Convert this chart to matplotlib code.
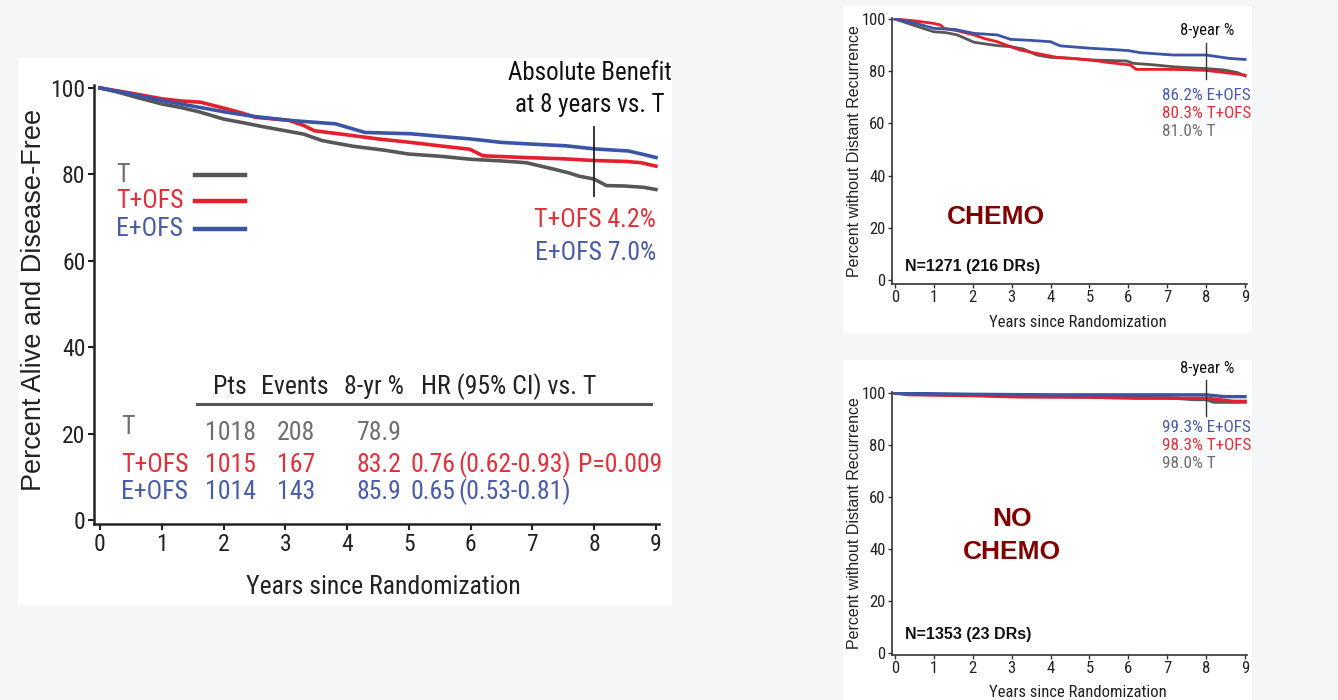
import os
import matplotlib
matplotlib.use("Agg")
import matplotlib.pyplot as plt
from matplotlib import font_manager
from matplotlib.font_manager import FontProperties
from matplotlib.patches import Rectangle

# ---------------- data ----------------
years_ticks = list(range(0, 10))
pct_ticks_main = [0, 20, 40, 60, 80, 100]

t_years = [0, 0.3, 0.6, 1.0, 1.3, 1.6, 2.0, 2.3, 2.65, 3.0, 3.3, 3.6, 4.1, 4.6, 5.0, 5.5,
           6.0, 6.5, 6.9, 7.35, 7.6, 7.75, 8.0, 8.2, 8.5, 8.8, 9.0]
t_dfs = [100, 99, 97.8, 96.3, 95.5, 94.5, 92.8, 92, 91, 90.1, 89.3, 87.8, 86.5, 85.6, 84.7,
         84.2, 83.5, 83.1, 82.7, 81.2, 80.3, 79.6, 78.9, 77.4, 77.3, 77.0, 76.5]
tofs_years = [0, 0.5, 1.0, 1.3, 1.63, 2.04, 2.3, 2.52, 3.06, 3.3, 3.47, 4.08, 4.5, 5.03, 5.5,
              5.99, 6.2, 6.87, 7.5, 8.0, 8.5, 8.76, 9.0]
tofs_dfs = [100, 98.8, 97.5, 97.0, 96.7, 95.2, 94.2, 93.2, 92.5, 91.3, 90.1, 89.0, 88.2, 87.4,
            86.6, 85.8, 84.3, 83.9, 83.6, 83.2, 83.0, 82.7, 81.9]
eofs_years = [0, 0.5, 1.0, 1.5, 2.04, 2.5, 3.06, 3.81, 4.29, 5.03, 5.5, 6.0, 6.5, 7.0, 7.55,
              8.0, 8.56, 8.8, 9.0]
eofs_dfs = [100, 98.6, 97.1, 95.8, 94.4, 93.4, 92.5, 91.7, 89.7, 89.4, 88.8, 88.2, 87.4, 87.0,
            86.6, 85.9, 85.4, 84.6, 83.9]

table_header = ["Pts", "Events", "8-yr %", "HR (95% CI) vs. T"]
table_arms = ["T", "T+OFS", "E+OFS"]
table_pts = ["1018", "1015", "1014"]
table_events = ["208", "167", "143"]
table_8yr = ["78.9", "83.2", "85.9"]
table_hr = ["", "0.76", "0.65"]
table_ci = ["", "(0.62-0.93)", "(0.53-0.81)"]
table_p = ["", "P=0.009", ""]
benefit_labels = ["T+OFS 4.2%", "E+OFS 7.0%"]

c_t_years = [0, 0.5, 1.0, 1.3, 1.6, 2.03, 2.3, 2.63, 2.97, 3.3, 3.65, 4.0, 4.5, 5.02, 5.5,
             5.96, 6.13, 6.6, 7.16, 7.6, 8.0, 8.44, 8.8, 9.0]
c_t_vals = [100, 97.5, 95.1, 94.8, 93.9, 91.1, 90.5, 89.8, 89.4, 88.5, 86.2, 85.3, 85.0, 84.3,
            84.1, 83.9, 83.0, 82.5, 81.7, 81.3, 81.0, 80.5, 79.5, 78.2]
c_tofs_years = [0, 0.5, 1.0, 1.17, 1.26, 1.6, 2.03, 2.3, 2.63, 2.97, 3.22, 3.65, 4.17, 4.6,
                5.02, 5.5, 6.05, 6.2, 7.0, 7.5, 8.0, 8.53, 9.0]
c_tofs_vals = [100, 99.3, 98.3, 97.7, 96.4, 95.5, 93.9, 92.5, 91.3, 89.4, 88.1, 86.8, 85.3,
               84.8, 84.3, 83.3, 82.4, 80.7, 80.7, 80.6, 80.3, 79.4, 78.5]
c_eofs_years = [0, 0.5, 1.0, 1.54, 2.03, 2.63, 2.97, 3.5, 4.0, 4.25, 5.02, 5.6, 6.0, 6.3,
                7.16, 8.0, 8.6, 9.0]
c_eofs_vals = [100, 98.5, 96.4, 96.0, 94.5, 93.9, 92.2, 91.8, 91.3, 89.7, 88.8, 88.3, 87.9,
               87.1, 86.2, 86.2, 84.9, 84.5]
chemo_labels = ["86.2% E+OFS", "80.3% T+OFS", "81.0% T"]

n_t_years = [0, 1, 2, 3, 4, 5, 6, 7, 7.7, 8.0, 8.2, 9.0]
n_t_vals = [100, 99.5, 99.2, 98.8, 98.6, 98.5, 98.3, 98.2, 97.5, 97.5, 96.5, 96.5]
n_tofs_years = [0, 0.3, 1, 2, 3.2, 4, 5, 6.2, 7, 8, 8.7, 9.0]
n_tofs_vals = [100, 99.4, 99.2, 99.0, 98.5, 98.5, 98.4, 98.0, 98.0, 98.0, 96.8, 96.8]
n_eofs_years = [0, 1, 2, 3, 4, 5, 6, 7, 8, 8.47, 9.0]
n_eofs_vals = [100, 99.7, 99.5, 99.4, 99.3, 99.3, 99.3, 99.3, 99.3, 98.6, 98.6]
nochemo_labels = ["99.3% E+OFS", "98.3% T+OFS", "98.0% T"]

# ---------------- style ----------------
GRAY = "#575757"
RED = "#e3202b"
BLUE = "#3a55a5"
TXT_GRAY = "#6e6e6e"
TXT_RED = "#e0303a"
TXT_BLUE = "#4a5ba8"
DARKRED = "#800000"
ARIAL = "Liberation Sans"


def find_narrow():
    prefs = ["liberation sans narrow", "arial narrow", "roboto condensed",
             "noto sans condensed", "dejavu sans condensed", "open sans condensed"]
    best = None
    for f in font_manager.fontManager.ttflist:
        nm = f.name.lower()
        fn = os.path.basename(f.fname).lower()
        if f.style != "normal":
            continue
        w = f.weight if isinstance(f.weight, int) else 400
        if w != 400:
            continue
        key = None
        for i, p in enumerate(prefs):
            if nm == p or p.replace(" ", "") in fn.replace("-", "").replace("_", ""):
                key = i
                break
        if key is None and ("condensed" in fn or "narrow" in fn) and "semi" not in fn \
                and "extra" not in fn and "ultra" not in fn and "bold" not in fn \
                and "italic" not in fn and "light" not in fn and "medium" not in fn \
                and "thin" not in fn and "black" not in fn:
            key = len(prefs)
        if key is not None and (best is None or key < best[0]):
            best = (key, f.fname)
    return best[1] if best else None


NARROW_PATH = find_narrow()


def nfont(size):
    if NARROW_PATH:
        return FontProperties(fname=NARROW_PATH, size=size)
    return FontProperties(family=ARIAL, size=size * 0.85)


W, H = 1338, 700
fig = plt.figure(figsize=(W / 100, H / 100), dpi=100, facecolor="#f5f6f8")


def box(x0, y0, x1, y1):
    return [x0 / W, 1 - y1 / H, (x1 - x0) / W, (y1 - y0) / H]


def ftext(x, y, s, fp=None, **kw):
    fig.text(x / W, 1 - y / H, s, fontproperties=fp, **kw)


for (x0, y0, x1, y1) in [(18, 58, 672, 605), (843, 6, 1252, 333), (843, 360, 1252, 700)]:
    fig.patches.append(Rectangle((x0 / W, 1 - y1 / H), (x1 - x0) / W, (y1 - y0) / H,
                                 transform=fig.transFigure, facecolor="white",
                                 edgecolor="none", zorder=-10))

# ---------------- left panel ----------------
ax = fig.add_axes(box(93.8, 84.5, 659, 524.3))
ax.set_facecolor("none")
ax.plot(t_years, t_dfs, color=GRAY, lw=2.6)
ax.plot(tofs_years, tofs_dfs, color=RED, lw=2.6)
ax.plot(eofs_years, eofs_dfs, color=BLUE, lw=2.6)
ax.set_xlim(-0.1, 9.05)
ax.set_ylim(-1, 100.8)
ax.set_xticks(years_ticks)
ax.set_yticks(pct_ticks_main)
for s in ["top", "right"]:
    ax.spines[s].set_visible(False)
for s in ["left", "bottom"]:
    ax.spines[s].set_linewidth(1.8)
    ax.spines[s].set_color("#222222")
ax.tick_params(axis="both", length=4, width=1.5, color="#222222", labelcolor="#222222", pad=2)
for lab in ax.get_xticklabels() + ax.get_yticklabels():
    lab.set_fontproperties(nfont(17))
ax.set_xlabel("Years since Randomization", fontproperties=nfont(18.5), color="#222222")
ax.xaxis.set_label_coords(0.512, -0.115)
ax.set_ylabel("Percent Alive and Disease-Free", family=ARIAL, fontsize=19.5, color="#222222")
ax.yaxis.set_label_coords(-0.083, 0.51)

ax.plot([8, 8], [75, 91], color="#222222", lw=1.3)
ftext(590, 73, "Absolute Benefit", nfont(18), ha="center", va="center", color="#111111")
ftext(590, 105, "at 8 years vs. T", nfont(18), ha="center", va="center", color="#111111")
ftext(656, 220, benefit_labels[0], nfont(18.5), ha="right", va="center", color=TXT_RED)
ftext(656, 253, benefit_labels[1], nfont(18.5), ha="right", va="center", color=TXT_BLUE)

leg_y = [175, 201, 229]
leg_cols = [GRAY, RED, BLUE]
leg_tcols = [TXT_GRAY, TXT_RED, TXT_BLUE]
for name, yy, c, tc in zip(table_arms, leg_y, leg_cols, leg_tcols):
    ftext(116, yy, name, nfont(18.5), ha="left", va="center", color=tc)
    fig.lines.append(plt.Line2D([195 / W, 245 / W], [1 - yy / H, 1 - yy / H],
                                transform=fig.transFigure, color=c, lw=3.2))

hdr_x = [213, 261, 344, 421]
for s, xx in zip(table_header, hdr_x):
    ftext(xx, 387, s, nfont(18.5), ha="left", va="center", color="#222222")
fig.lines.append(plt.Line2D([197 / W, 651 / W], [1 - 404 / H, 1 - 404 / H],
                            transform=fig.transFigure, color="#555555", lw=2.2))
row_y = [433, 465, 492]
for i in range(3):
    yy = row_y[i]
    tc = leg_tcols[i]
    ftext(121, yy - (6 if i == 0 else 0), table_arms[i], nfont(18.5), ha="left", va="center",
          color=tc)
    ftext(205, yy, table_pts[i], nfont(18.5), ha="left", va="center", color=tc)
    ftext(277, yy, table_events[i], nfont(18.5), ha="left", va="center", color=tc)
    ftext(357, yy, table_8yr[i], nfont(18.5), ha="left", va="center", color=tc)
    if table_hr[i]:
        ftext(455, yy, table_hr[i], nfont(18.5), ha="right", va="center", color=tc)
        ftext(458, yy, table_ci[i], nfont(18.5), ha="left", va="center", color=tc)
    if table_p[i]:
        ftext(578, yy, table_p[i], nfont(18.5), ha="left", va="center", color=tc)


# ---------------- right panels ----------------
def right_panel(rect, ylim, tdat, rdat, bdat, labels, label_y, vline, year_lbl_y, lw):
    a = fig.add_axes(rect)
    a.set_facecolor("none")
    a.plot(*tdat, color=GRAY, lw=lw)
    a.plot(*rdat, color=RED, lw=lw)
    a.plot(*bdat, color=BLUE, lw=lw)
    a.set_xlim(-0.08, 9.05)
    a.set_ylim(*ylim)
    a.set_xticks(years_ticks)
    a.set_yticks(pct_ticks_main)
    for s in ["top", "right"]:
        a.spines[s].set_visible(False)
    for s in ["left", "bottom"]:
        a.spines[s].set_linewidth(1.2)
        a.spines[s].set_color("#333333")
    a.tick_params(axis="both", length=3, width=1.0, color="#333333", labelcolor="#222222",
                  pad=1.5)
    for lab in a.get_xticklabels() + a.get_yticklabels():
        lab.set_fontproperties(nfont(12))
    a.set_xlabel("Years since Randomization", fontproperties=nfont(12), color="#222222")
    a.xaxis.set_label_coords(0.524, -0.115)
    a.set_ylabel("Percent without Distant Recurrence", family=ARIAL, fontsize=11.5,
                 color="#222222")
    a.yaxis.set_label_coords(-0.085, 0.5)
    a.plot([8, 8], vline, color="#333333", lw=1.0, clip_on=False)
    ftext(1207, year_lbl_y, "8-year %", nfont(12), ha="center", va="center", color="#111111")
    for s, yy, c in zip(labels, label_y, [TXT_BLUE, TXT_RED, TXT_GRAY]):
        ftext(1162, yy, s, nfont(12.3), ha="left", va="center", color=c)
    return a


right_panel(box(891.9, 17.7, 1247, 283.9), (-1.5, 100.5),
            (c_t_years, c_t_vals), (c_tofs_years, c_tofs_vals), (c_eofs_years, c_eofs_vals),
            chemo_labels, [95, 113, 131], [76.9, 90.7], 31, 2.0)
ftext(996, 217, "CHEMO", family=ARIAL, weight="bold", fontsize=19, ha="center", va="center",
      color=DARKRED)
ftext(905, 266, "N=1271 (216 DRs)", family=ARIAL, weight="bold", fontsize=11.5, ha="left",
      va="center", color="#111111")

right_panel(box(891.9, 391.7, 1247, 655.1), (-0.8, 100.5),
            (n_t_years, n_t_vals), (n_tofs_years, n_tofs_vals), (n_eofs_years, n_eofs_vals),
            nochemo_labels, [428, 446, 464], [91.3, 104.9], 368, 2.4)
ftext(1012, 519, "NO", family=ARIAL, weight="bold", fontsize=19, ha="center", va="center",
      color=DARKRED)
ftext(1012, 552, "CHEMO", family=ARIAL, weight="bold", fontsize=19, ha="center", va="center",
      color=DARKRED)
ftext(905, 635, "N=1353 (23 DRs)", family=ARIAL, weight="bold", fontsize=11.5, ha="left",
      va="center", color="#111111")

fig.savefig("out.png", dpi=100, facecolor=fig.get_facecolor())
